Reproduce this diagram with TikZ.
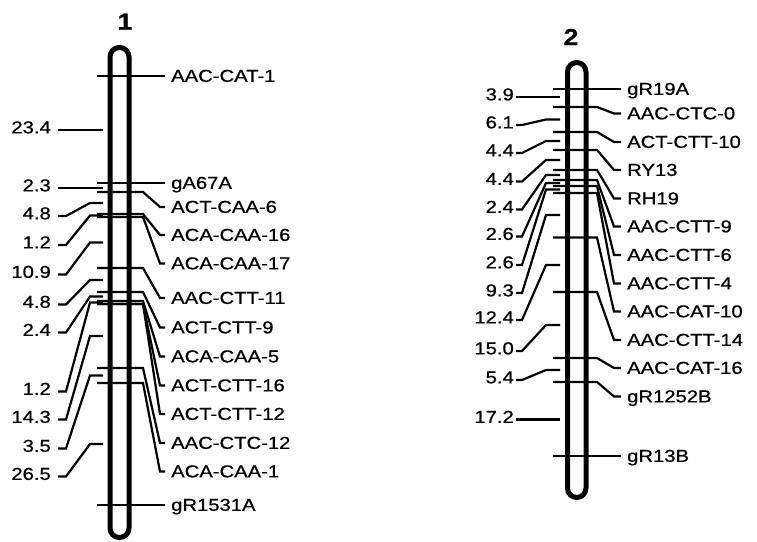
\documentclass[tikz,border=0pt]{standalone}
\usepackage{fontspec}
\newfontfamily\mapfont{Liberation Sans}[FakeStretch=1.17,FakeBold=0.7]
\tikzset{
  chrom/.style={draw=black,line width=5pt,rounded corners=9.4pt},
  link/.style={draw=black,line width=2.2pt},
  locus/.style={anchor=west,inner xsep=6pt,inner ysep=0pt,
    text height=11.7pt,text depth=0pt,font=\mapfont\fontsize{17.3}{20}\selectfont},
  dist/.style={anchor=east,inner xsep=7pt,inner ysep=0pt,
    text height=11.7pt,text depth=5pt,font=\mapfont\fontsize{17.3}{20}\selectfont},
  chromname/.style={anchor=base,inner sep=0pt,font=\mapfont\bfseries\fontsize{23}{26}\selectfont}
}

\begin{document}
\begin{tikzpicture}[x=1pt,y=-1pt]
  \useasboundingbox (0,0) rectangle (757,541);

  % chromosome 1
  \draw[chrom] (110,47.5) rectangle (129,537.5);
  \node[chromname] (name1) at (125,29.5) {1};

  % loci on chromosome 1
  \coordinate (a1) at (97,76);
  \coordinate (a2) at (97,183);
  \coordinate (a3) at (97,192);
  \coordinate (a4) at (97,214);
  \coordinate (a5) at (97,217);
  \coordinate (a6) at (97,268);
  \coordinate (a7) at (97,292);
  \coordinate (a8) at (97,301);
  \coordinate (a9) at (97,304);
  \coordinate (a10) at (97,304);
  \coordinate (a11) at (97,368);
  \coordinate (a12) at (97,383);
  \coordinate (a13) at (97,505);

  \node[locus] (A1) at (165,76) {AAC-CAT-1};
  \node[locus] (A2) at (165,183) {gA67A};
  \node[locus] (A3) at (165,207) {ACT-CAA-6};
  \node[locus] (A4) at (165,235) {ACA-CAA-16};
  \node[locus] (A5) at (165,263.5) {ACA-CAA-17};
  \node[locus] (A6) at (165,298) {AAC-CTT-11};
  \node[locus] (A7) at (165,327.5) {ACT-CTT-9};
  \node[locus] (A8) at (165,356.5) {ACA-CAA-5};
  \node[locus] (A9) at (165,385.5) {ACT-CTT-16};
  \node[locus] (A10) at (165,414) {ACT-CTT-12};
  \node[locus] (A11) at (165,443) {AAC-CTC-12};
  \node[locus] (A12) at (165,471.5) {ACA-CAA-1};
  \node[locus] (A13) at (165,505) {gR1531A};

  \draw[link] (a1) -- (A1.west);
  \draw[link] (a2) -- (A2.west);
  \draw[link] (a3) -- ++(46,0) -- ([xshift=-5pt]A3.west) -- (A3.west);
  \draw[link] (a4) -- ++(46,0) -- ([xshift=-5pt]A4.west) -- (A4.west);
  \draw[link] (a5) -- ++(46,0) -- ([xshift=-5pt]A5.west) -- (A5.west);
  \draw[link] (a6) -- ++(46,0) -- ([xshift=-5pt]A6.west) -- (A6.west);
  \draw[link] (a7) -- ++(46,0) -- ([xshift=-5pt]A7.west) -- (A7.west);
  \draw[link] (a8) -- ++(46,0) -- ([xshift=-5pt]A8.west) -- (A8.west);
  \draw[link] (a9) -- ++(46,0) -- ([xshift=-5pt]A9.west) -- (A9.west);
  \draw[link] (a10) -- ++(46,0) -- ([xshift=-5pt]A10.west) -- (A10.west);
  \draw[link] (a11) -- ++(46,0) -- ([xshift=-5pt]A11.west) -- (A11.west);
  \draw[link] (a12) -- ++(46,0) -- ([xshift=-5pt]A12.west) -- (A12.west);
  \draw[link] (a13) -- (A13.west);

  % intervals on chromosome 1
  \coordinate (t1) at (103,130);
  \coordinate (t2) at (103,188);
  \coordinate (t3) at (103,203);
  \coordinate (t4) at (103,215.5);
  \coordinate (t5) at (103,242.5);
  \coordinate (t6) at (103,280);
  \coordinate (t7) at (103,296.5);
  \coordinate (t8) at (103,302.5);
  \coordinate (t9) at (103,336);
  \coordinate (t10) at (103,375.5);
  \coordinate (t11) at (103,444);

  \node[dist] (D1) at (58,130) {23.4};
  \node[dist] (D2) at (58,188) {2.3};
  \node[dist] (D3) at (58,216) {4.8};
  \node[dist] (D4) at (58,245) {1.2};
  \node[dist] (D5) at (58,274.5) {10.9};
  \node[dist] (D6) at (58,304.5) {4.8};
  \node[dist] (D7) at (58,332.5) {2.4};
  \node[dist] (D8) at (58,391.5) {1.2};
  \node[dist] (D9) at (58,419.5) {14.3};
  \node[dist] (D10) at (58,448.5) {3.5};
  \node[dist] (D11) at (58,476.5) {26.5};

  \draw[link] (D1.east) -- (t1);
  \draw[link] (D2.east) -- (t2);
  \draw[link] (D3.east) -- ++(8,0) -- ([xshift=-13pt]t3) -- (t3);
  \draw[link] (D4.east) -- ++(8,0) -- ([xshift=-13pt]t4) -- (t4);
  \draw[link] (D5.east) -- ++(8,0) -- ([xshift=-13pt]t5) -- (t5);
  \draw[link] (D6.east) -- ++(8,0) -- ([xshift=-13pt]t6) -- (t6);
  \draw[link] (D7.east) -- ++(8,0) -- ([xshift=-13pt]t7) -- (t7);
  \draw[link] (D8.east) -- ++(8,0) -- ([xshift=-13pt]t8) -- (t8);
  \draw[link] (D9.east) -- ++(8,0) -- ([xshift=-13pt]t9) -- (t9);
  \draw[link] (D10.east) -- ++(8,0) -- ([xshift=-13pt]t10) -- (t10);
  \draw[link] (D11.east) -- ++(8,0) -- ([xshift=-13pt]t11) -- (t11);

  % chromosome 2
  \draw[chrom] (567.5,62.5) rectangle (586,497.5);
  \node[chromname] (name2) at (571,45) {2};

  % loci on chromosome 2
  \coordinate (b1) at (553,89);
  \coordinate (b2) at (553,107);
  \coordinate (b3) at (553,132);
  \coordinate (b4) at (553,150);
  \coordinate (b5) at (553,170);
  \coordinate (b6) at (553,180);
  \coordinate (b7) at (553,186);
  \coordinate (b8) at (553,193);
  \coordinate (b9) at (553,237.5);
  \coordinate (b10) at (553,292);
  \coordinate (b11) at (553,358);
  \coordinate (b12) at (553,382);
  \coordinate (b13) at (553,456);

  \node[locus] (B1) at (621,89) {gR19A};
  \node[locus] (B2) at (621,113.5) {AAC-CTC-0};
  \node[locus] (B3) at (621,142) {ACT-CTT-10};
  \node[locus] (B4) at (621,170) {RY13};
  \node[locus] (B5) at (621,198.5) {RH19};
  \node[locus] (B6) at (621,226.5) {AAC-CTT-9};
  \node[locus] (B7) at (621,255) {AAC-CTT-6};
  \node[locus] (B8) at (621,283.5) {AAC-CTT-4};
  \node[locus] (B9) at (621,311.5) {AAC-CAT-10};
  \node[locus] (B10) at (621,340) {AAC-CTT-14};
  \node[locus] (B11) at (621,368) {AAC-CAT-16};
  \node[locus] (B12) at (621,396.5) {gR1252B};
  \node[locus] (B13) at (621,456) {gR13B};

  \draw[link] (b1) -- (B1.west);
  \draw[link] (b2) -- ++(44,0) -- ([xshift=-7pt]B2.west) -- (B2.west);
  \draw[link] (b3) -- ++(44,0) -- ([xshift=-7pt]B3.west) -- (B3.west);
  \draw[link] (b4) -- ++(44,0) -- ([xshift=-7pt]B4.west) -- (B4.west);
  \draw[link] (b5) -- ++(44,0) -- ([xshift=-7pt]B5.west) -- (B5.west);
  \draw[link] (b6) -- ++(44,0) -- ([xshift=-7pt]B6.west) -- (B6.west);
  \draw[link] (b7) -- ++(44,0) -- ([xshift=-7pt]B7.west) -- (B7.west);
  \draw[link] (b8) -- ++(44,0) -- ([xshift=-7pt]B8.west) -- (B8.west);
  \draw[link] (b9) -- ++(44,0) -- ([xshift=-7pt]B9.west) -- (B9.west);
  \draw[link] (b10) -- ++(44,0) -- ([xshift=-7pt]B10.west) -- (B10.west);
  \draw[link] (b11) -- ++(44,0) -- ([xshift=-7pt]B11.west) -- (B11.west);
  \draw[link] (b12) -- ++(44,0) -- ([xshift=-7pt]B12.west) -- (B12.west);
  \draw[link] (b13) -- (B13.west);

  % intervals on chromosome 2
  \coordinate (s1) at (560,97);
  \coordinate (s2) at (560,119.5);
  \coordinate (s3) at (560,141);
  \coordinate (s4) at (560,160);
  \coordinate (s5) at (560,175);
  \coordinate (s6) at (560,183);
  \coordinate (s7) at (560,189.5);
  \coordinate (s8) at (560,215);
  \coordinate (s9) at (560,265);
  \coordinate (s10) at (560,325);
  \coordinate (s11) at (560,370);
  \coordinate (s12) at (560,419.5);

  \node[dist,inner xsep=2pt] (E1) at (516,97) {3.9};
  \node[dist,inner xsep=2pt] (E2) at (516,125) {6.1};
  \node[dist,inner xsep=2pt] (E3) at (516,153) {4.4};
  \node[dist,inner xsep=2pt] (E4) at (516,181.5) {4.4};
  \node[dist,inner xsep=2pt] (E5) at (516,209.5) {2.4};
  \node[dist,inner xsep=2pt] (E6) at (516,236.5) {2.6};
  \node[dist,inner xsep=2pt] (E7) at (516,265) {2.6};
  \node[dist,inner xsep=2pt] (E8) at (516,293) {9.3};
  \node[dist,inner xsep=2pt] (E9) at (516,320) {12.4};
  \node[dist,inner xsep=2pt] (E10) at (516,351) {15.0};
  \node[dist,inner xsep=2pt] (E11) at (516,380) {5.4};
  \node[dist,inner xsep=2pt] (E12) at (516,419.5) {17.2};

  \draw[link] (E1.east) -- (s1);
  \draw[link] (E2.east) -- ++(6,0) -- ([xshift=-14pt]s2) -- (s2);
  \draw[link] (E3.east) -- ++(6,0) -- ([xshift=-14pt]s3) -- (s3);
  \draw[link] (E4.east) -- ++(6,0) -- ([xshift=-14pt]s4) -- (s4);
  \draw[link] (E5.east) -- ++(6,0) -- ([xshift=-14pt]s5) -- (s5);
  \draw[link] (E6.east) -- ++(6,0) -- ([xshift=-14pt]s6) -- (s6);
  \draw[link] (E7.east) -- ++(6,0) -- ([xshift=-14pt]s7) -- (s7);
  \draw[link] (E8.east) -- ++(6,0) -- ([xshift=-14pt]s8) -- (s8);
  \draw[link] (E9.east) -- ++(6,0) -- ([xshift=-14pt]s9) -- (s9);
  \draw[link] (E10.east) -- ++(6,0) -- ([xshift=-14pt]s10) -- (s10);
  \draw[link] (E11.east) -- ++(6,0) -- ([xshift=-14pt]s11) -- (s11);
  \draw[link] (E12.east) -- (s12);
\end{tikzpicture}
\end{document}
